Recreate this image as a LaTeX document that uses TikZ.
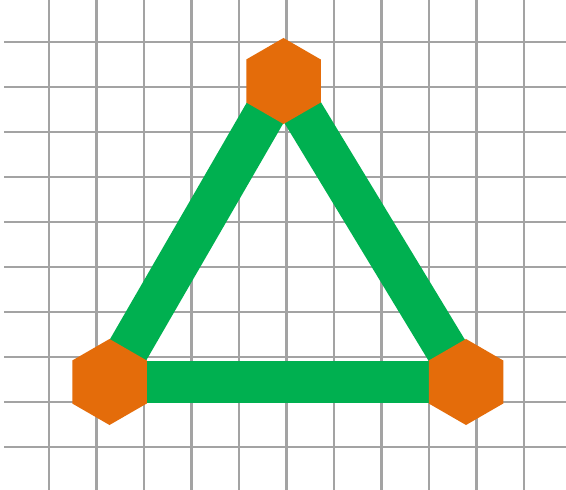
\documentclass[tikz,border=0pt]{standalone}
\usepackage{tikz}
\usetikzlibrary{shapes.geometric,backgrounds}
\definecolor{BarGreen}{HTML}{00B050}
\definecolor{HexOrange}{HTML}{E46C0A}
\definecolor{GridGray}{HTML}{8C8C8C}

\begin{document}
\begin{tikzpicture}[
        x=0.025cm, y=-0.025cm,
        hexa/.style={
            regular polygon,
            regular polygon sides=6,
            shape border rotate=30,
            fill=HexOrange,
            draw=none,
            inner sep=0pt,
            minimum size=2.15cm
        },
        bar/.style={line width=1.05cm, draw=BarGreen, line cap=butt},
        gridline/.style={line width=1.6pt, draw=GridGray!80}
    ]
        \useasboundingbox (0,0) rectangle (566,490);

        \node[hexa] (vtop) at (283.5,81) {};
        \node[hexa] (vleft) at (109.5,382) {};
        \node[hexa] (vright) at (466,382) {};

        \begin{pgfonlayer}{background}
            \fill[white] (0,0) rectangle (566,490);
            \begin{scope}
                \clip (4,0) rectangle (566,490);
                \foreach \i in {0,...,12}
                    \draw[gridline] ({1.5+47.5*\i},0) -- ({1.5+47.5*\i},490);
                \foreach \j in {0,...,11}
                    \draw[gridline] (4,{-2.7+45*\j}) -- (566,{-2.7+45*\j});
            \end{scope}
            \draw[bar] (vtop.center) -- (vleft.center);
            \draw[bar] (vtop.center) -- (vright.center);
            \draw[bar] (vleft.center) -- (vright.center);
        \end{pgfonlayer}
    \end{tikzpicture}
\end{document}
